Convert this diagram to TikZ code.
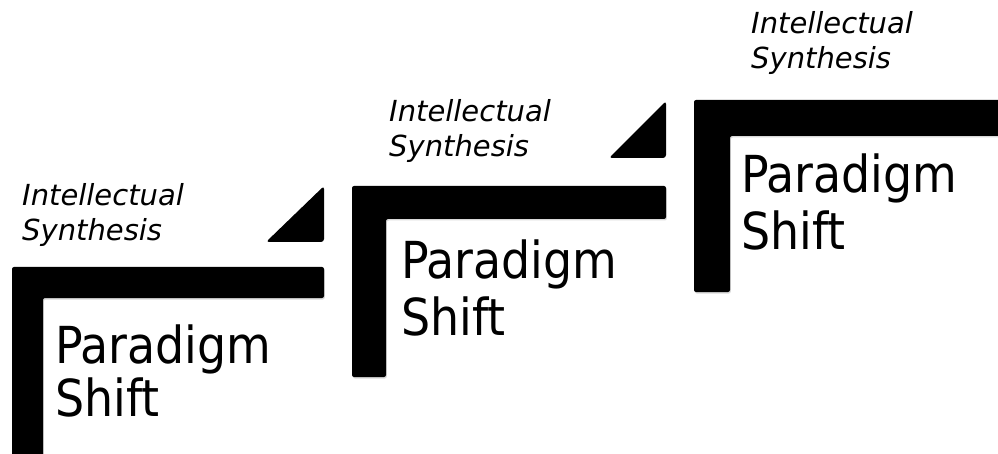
\documentclass[tikz,border=0pt]{standalone}
\usepackage{fontspec}
\newfontfamily\psfont{DejaVu Sans Condensed}
\newfontfamily\isfont{DejaVu Sans}
\usetikzlibrary{shadows}
\tikzset{
  bar/.style={fill=black, rounded corners=2pt,
    drop shadow={shadow xshift=0.8pt, shadow yshift=-1.5pt, opacity=0.15, fill=black}},
  tri/.style={fill=black, rounded corners=3pt},
  pstext/.style={anchor=base west, inner sep=0pt, font=\psfont\fontsize{51}{56}\selectfont},
  istext/.style={anchor=base west, inner sep=0pt, font=\isfont\itshape\fontsize{29}{35}\selectfont}
}
\begin{document}
\begin{tikzpicture}[x=1pt, y=-1pt]
\useasboundingbox (0,0) rectangle (998,454);
% step 1
\path[bar] (12,470) -- (12,267) -- (324,267) -- (324,298) -- (43,298) -- (43,470) -- cycle;
\path[tri] (324,186) -- (324,242) -- (266,242) -- cycle;
\node[istext] (i1a) at (22,206) {Intellectual};
\node[istext] (i1b) at (22,241) {Synthesis};
\node[pstext] (p1a) at (55,363) {Paradigm};
\node[pstext] (p1b) at (55,416) {Shift};
% step 2
\path[bar] (352,377) -- (352,186) -- (666,186) -- (666,219) -- (386,219) -- (386,377) -- cycle;
\path[tri] (666,101) -- (666,158) -- (609,158) -- cycle;
\node[istext] (i2a) at (389,122) {Intellectual};
\node[istext] (i2b) at (389,157) {Synthesis};
\node[pstext] (p2a) at (401,278) {Paradigm};
\node[pstext] (p2b) at (401,335) {Shift};
% step 3
\path[bar] (694,292) -- (694,100) -- (1010,100) -- (1010,136) -- (730,136) -- (730,292) -- cycle;
\node[istext] (i3a) at (751,34) {Intellectual};
\node[istext] (i3b) at (751,69) {Synthesis};
\node[pstext] (p3a) at (741,193) {Paradigm};
\node[pstext] (p3b) at (741,250) {Shift};
\end{tikzpicture}
\end{document}
